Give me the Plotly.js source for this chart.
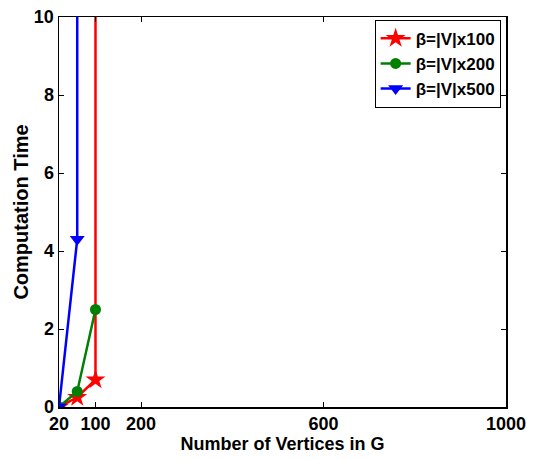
<!DOCTYPE html>
<html>
<head>
<meta charset="utf-8">
<script src="https://cdn.plot.ly/plotly-3.0.1.min.js"></script>
<style>html,body{margin:0;padding:0;background:#fff}#chart{width:535px;height:460px}</style>
</head>
<body>
<div id="chart"></div>
<script>
var vertices = [20, 60, 100, 100];
var verticesBlue = [20, 60, 60];
var time100 = [0, 0.25, 0.7, 60];
var time200 = [0, 0.4, 2.5];
var time500 = [0, 4.3, 60];
var names = ['β=|V|x100', 'β=|V|x200', 'β=|V|x500'];
var xTicks = [20, 100, 200, 600, 1000];
var yTicks = [0, 2, 4, 6, 8, 10];

var fam = '"Liberation Sans", Arial, sans-serif';
var fnt = {family: fam, size: 18, color: '#000', weight: 'bold'};
var traces = [
  {x: vertices, y: time100, name: names[0], mode: 'lines+markers',
   line: {color: '#ff0000', width: 2.5}, marker: {symbol: 'star', size: 15, color: '#ff0000'}},
  {x: vertices.slice(0, 3), y: time200, name: names[1], mode: 'lines+markers',
   line: {color: '#008000', width: 2.5}, marker: {symbol: 'circle', size: 11, color: '#008000'}},
  {x: verticesBlue, y: time500, name: names[2], mode: 'lines+markers',
   line: {color: '#0000ff', width: 2.5}, marker: {symbol: 'triangle-down', size: 13, color: '#0000ff'}}
];
var layout = {
  width: 535, height: 460,
  margin: {l: 59, r: 29, t: 17, b: 53},
  paper_bgcolor: '#fff', plot_bgcolor: '#fff',
  font: fnt,
  showlegend: true,
  legend: {x: 0.988, xanchor: 'right', y: 0.993, yanchor: 'top',
    bordercolor: '#000', borderwidth: 1, bgcolor: '#fff',
    font: {family: fam, size: 17, color: '#000', weight: 'bold'}, tracegroupgap: 0, itemwidth: 30},
  xaxis: {range: [20, 1000], tickvals: xTicks, ticktext: xTicks.map(String),
    showgrid: false, zeroline: false, showline: true, linecolor: '#000', linewidth: 1.5,
    mirror: 'ticks', ticks: 'inside', ticklen: 5, tickcolor: '#000',
    tickfont: fnt, title: {text: 'Number of Vertices in G', font: fnt, standoff: 0}},
  yaxis: {range: [0, 10], tickvals: yTicks,
    showgrid: false, zeroline: false, showline: true, linecolor: '#000', linewidth: 1.5,
    mirror: 'ticks', ticks: 'inside', ticklen: 5, tickcolor: '#000',
    tickfont: fnt, title: {text: 'Computation Time', font: {family: fam, size: 20, color: '#000', weight: 'bold'}, standoff: 0}}
};
Plotly.newPlot('chart', traces, layout, {displayModeBar: false, staticPlot: true});
</script>
</body>
</html>
